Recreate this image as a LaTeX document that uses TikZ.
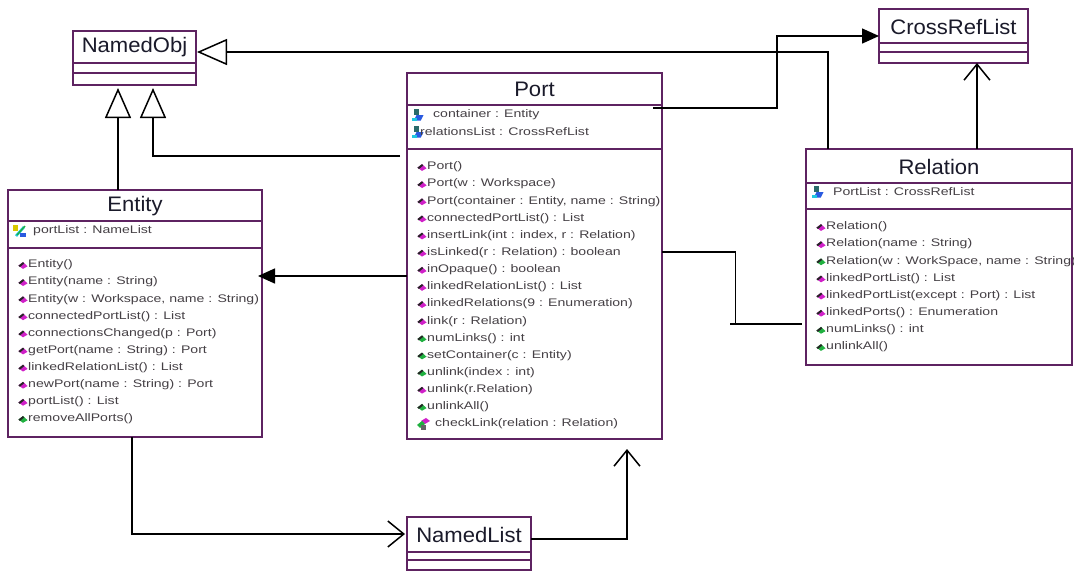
\documentclass[tikz,border=0pt]{standalone}
\usepackage{fontspec}
\setmainfont{Liberation Sans}
\newfontfamily\titlefont[FakeStretch=1.05]{Liberation Sans}
\newfontfamily\memfont[FakeStretch=1.28]{Liberation Sans}
\usetikzlibrary{arrows.meta,calc}
\definecolor{umlborder}{HTML}{5E2361}
\definecolor{membertext}{HTML}{454045}
\definecolor{titletext}{HTML}{1A1A2A}
\definecolor{mag}{HTML}{D020C8}
\definecolor{grn}{HTML}{20B040}
\definecolor{attrteal}{HTML}{2A6A6A}
\definecolor{attrblue}{HTML}{2A5AE0}
\definecolor{attrcyan}{HTML}{20C8E0}
\definecolor{attryellow}{HTML}{D8C800}

\begin{document}
\begin{tikzpicture}[x=1pt,y=-1pt,
  classbox/.style={draw=umlborder, line width=1.6pt, fill=white, anchor=north west,
                   inner sep=0pt, outer sep=0pt},
  divider/.style={draw=umlborder, line width=1.6pt},
  title/.style={font=\titlefont\fontsize{21}{24}\selectfont, text=titletext, inner sep=0pt},
  member/.style={font=\memfont\fontsize{11}{13}\selectfont, text=membertext, anchor=west, inner sep=0pt},
  conn/.style={draw=black, line width=1.5pt},
  thinconn/.style={draw=black, line width=1pt},
  gen/.style={conn, -{Triangle[open, length=30pt, width=26pt, fill=white]}},
  assoc/.style={conn, -{Triangle[length=17pt, width=15pt]}},
  nav/.style={conn, -{Straight Barb[length=16pt, width=26pt]}},
  meth/.pic={
    \begin{scope}[scale=1.3]
    \fill[#1] (-3.5,0.5) -- (0,-2.2) -- (3.5,1) -- (0,3) -- cycle;
    \fill[black!85] (-3.5,0.5) -- (0,-2.2) -- (1,-1.2) -- (-2.4,1.6) -- cycle;
    \end{scope}
  },
  attrkey/.pic={
    \begin{scope}[scale=1.4]
    \fill[attrteal] (-3,-4) rectangle (1,0);
    \fill[attrblue] (-1,0) -- (4,0) -- (2,4) -- (-3,4) -- cycle;
    \fill[attrcyan] (-4,2) rectangle (-1,4);
    \end{scope}
  },
]
\useasboundingbox (0,0) rectangle (1074,571);
\fill[white] (0,0) rectangle (1074,571);

% ---------- class boxes ----------
\node[classbox, minimum width=123pt, minimum height=54pt] (namedobj) at (73,31) {};
\node[classbox, minimum width=149pt, minimum height=54pt] (crossref) at (879,9) {};
\node[classbox, minimum width=255pt, minimum height=366pt] (port) at (407,73) {};
\node[classbox, minimum width=254pt, minimum height=247pt] (entity) at (8,190) {};
\node[classbox, minimum width=266pt, minimum height=216pt] (relation) at (806,149) {};
\node[classbox, minimum width=124pt, minimum height=53pt] (namedlist) at (407,517) {};

% compartment dividers
\foreach \n/\a/\b in {namedobj/32/42, crossref/34/43, port/32/76, entity/31/58, relation/34/60, namedlist/35/43}{
  \draw[divider] ($(\n.north west)+(0,\a)$) -- ($(\n.north east)+(0,\a)$);
  \draw[divider] ($(\n.north west)+(0,\b)$) -- ($(\n.north east)+(0,\b)$);
}

% titles
\node[title] (namedobj-t) at ($(namedobj.north)+(0,16)$) {NamedObj};
\node[title] (crossref-t) at ($(crossref.north)+(0,18)$) {CrossRefList};
\node[title] (port-t) at ($(port.north)+(0,16)$) {Port};
\node[title] (entity-t) at ($(entity.north)+(0,16)$) {Entity};
\node[title] (relation-t) at ($(relation.north)+(0,18)$) {Relation};
\node[title] (namedlist-t) at ($(namedlist.north)+(0,18)$) {NamedList};

% ---------- Entity ----------
\begin{scope}[shift={(entity.north west)}]
  \fill[attryellow] (5,35) rectangle (10,41);
  \draw[attrcyan, line width=2.6pt] (8,46) -- (16,37);
  \draw[grn, line width=1.4pt] (9,45) -- (17,36);
  \fill[attrblue] (12,43) rectangle (18,47);
\end{scope}
\node[member] (entity-a0) at ($(entity.north west)+(25,41)$) {portList : NameList};
\foreach \c/\t [count=\i from 0] in {mag/Entity(), mag/Entity(name : String),
    mag/{Entity(w : Workspace, name : String)}, mag/connectedPortList() : List,
    mag/connectionsChanged(p : Port), mag/getPort(name : String) : Port,
    mag/linkedRelationList() : List, mag/newPort(name : String) : Port,
    mag/portList() : List, grn/removeAllPorts()}{
  \node[member] (entity-m\i) at ($(entity.north west)+(20,75+17.1*\i)$) {\t};
  \pic at ($(entity-m\i.west)+(-5,0)$) {meth=\c};
}

% ---------- Port ----------
\pic at ($(port.north west)+(11,42)$) {attrkey};
\pic at ($(port.north west)+(11,59)$) {attrkey};
\node[member] (port-a0) at ($(port.north west)+(26,42)$) {container : Entity};
\node[member] (port-a1) at ($(port.north west)+(13,59)$) {relationsList : CrossRefList};
\foreach \c/\t [count=\i from 0] in {mag/Port(), mag/Port(w : Workspace),
    mag/{Port(container : Entity, name : String)}, mag/connectedPortList() : List,
    mag/{insertLink(int : index, r : Relation)}, mag/isLinked(r : Relation) : boolean,
    mag/inOpaque() : boolean, mag/linkedRelationList() : List,
    mag/linkedRelations(9 : Enumeration), mag/link(r : Relation),
    grn/numLinks() : int, grn/setContainer(c : Entity), grn/unlink(index : int),
    mag/unlink(r.Relation), grn/unlinkAll()}{
  \node[member] (port-m\i) at ($(port.north west)+(20,94+17.13*\i)$) {\t};
  \pic at ($(port-m\i.west)+(-5,0)$) {meth=\c};
}
\node[member] (port-m15) at ($(port.north west)+(28,94+17.13*15)$) {checkLink(relation : Relation)};
\begin{scope}[shift={(port-m15.west)}]
  \fill[mag] (-14,-3) -- (-9,-6) -- (-5,-3) -- (-10,0) -- cycle;
  \fill[grn] (-18,1) -- (-13,-3) -- (-10,0) -- (-15,4) -- cycle;
  \fill[black!60] (-14,1) rectangle (-9,6);
\end{scope}

% ---------- Relation ----------
\pic at ($(relation.north west)+(12,43)$) {attrkey};
\node[member] (relation-a0) at ($(relation.north west)+(27,43)$) {PortList : CrossRefList};
\foreach \c/\t [count=\i from 0] in {mag/Relation(), mag/Relation(name : String),
    grn/{Relation(w : WorkSpace, name : String)}, mag/linkedPortList() : List,
    mag/linkedPortList(except : Port) : List, mag/linkedPorts() : Enumeration,
    grn/numLinks() : int, grn/unlinkAll()}{
  \node[member] (relation-m\i) at ($(relation.north west)+(20,78+17.14*\i)$) {\t};
  \pic at ($(relation-m\i.west)+(-5,0)$) {meth=\c};
}

% ---------- connectors ----------
% generalisations to NamedObj
\draw[gen] ($(entity.north west)+(110,0)$) -- ($(namedobj.south west)+(45,3)$);
\draw[gen] ($(port.north west)+(-7,83)$) -| ($(namedobj.south west)+(80,3)$);
\draw[gen] ($(relation.north west)+(22,0)$) |- ($(namedobj.north east)+(1,21)$);

% Port -> CrossRefList
\draw[assoc] ($(port.north east)+(-9,35)$) -- ($(port.north east)+(115,35)$) |- (crossref.west);
% Relation -> CrossRefList
\draw[nav] ($(relation.north west)+(171,0)$) -- ($(crossref.south east)+(-51,0)$);
% Port -> Entity
\draw[assoc] ($(port.north west)+(0,203)$) -- ($(entity.north east)+(-4,86)$);
% Port -- Relation
\draw[conn] ($(port.north east)+(0,179)$) -- ($(port.north east)+(73,179)$);
\draw[thinconn] ($(port.north east)+(73,178)$) -- ($(port.north east)+(73,251)$);
\draw[conn] ($(port.north east)+(68,251)$) -- ($(relation.north west)+(-4,175)$);
% Entity -> NamedList
\draw[nav] ($(entity.south west)+(124,0)$) |- ($(namedlist.north west)+(-2,17)$);
% NamedList -> Port
\draw[nav] ($(namedlist.north east)+(0,22)$) -| ($(port.south east)+(-35,10)$);
\end{tikzpicture}
\end{document}
